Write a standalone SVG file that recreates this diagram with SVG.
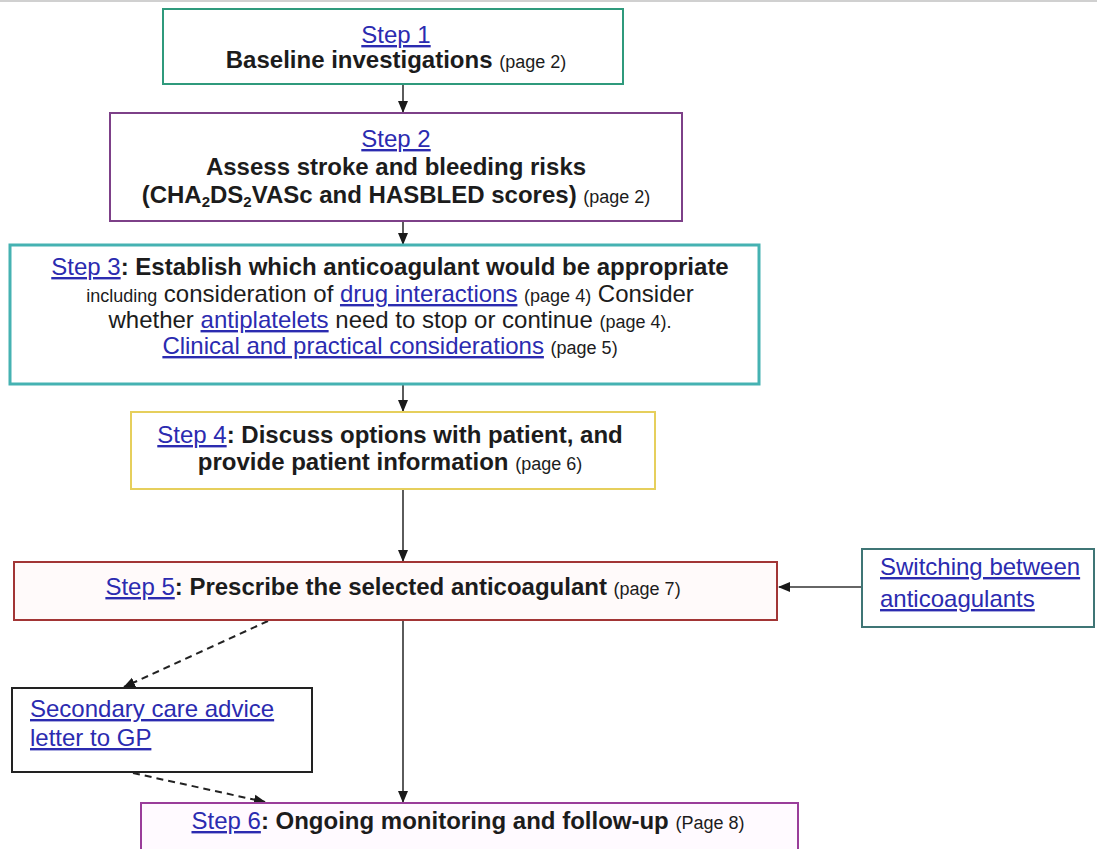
<svg xmlns="http://www.w3.org/2000/svg" width="1097" height="849" viewBox="0 0 1097 849">
<style>
  text { font-family: "Liberation Sans", Arial, sans-serif; fill: #1c1c1c; }
  .m { font-size: 24px; }
  .b { font-weight: bold; }
  .s { font-size: 18px; font-weight: normal; }
  .lk { fill: #2b2bb0; text-decoration: underline; font-weight: normal; }
  .box { fill: #ffffff; }
  .conn { stroke: #333; stroke-width: 1.6; fill: none; }
  .dash { stroke: #222; stroke-width: 2; stroke-dasharray: 7 5; fill: none; }
</style>
<defs>
  <marker id="ah" markerUnits="userSpaceOnUse" markerWidth="12" markerHeight="12" viewBox="0 0 12 12" refX="11" refY="6" orient="auto">
    <path d="M0,1 L12,6 L0,11 Z" fill="#1a1a1a"/>
  </marker>
</defs>
<rect x="0" y="0" width="1097" height="849" fill="#ffffff"/>
<line x1="0" y1="1" x2="1097" y2="1" stroke="#d0d0d0" stroke-width="2"/>

<g id="connectors">
  <line class="conn" x1="403" y1="84" x2="403" y2="112" marker-end="url(#ah)"/>
  <line class="conn" x1="403" y1="221" x2="403" y2="244" marker-end="url(#ah)"/>
  <line class="conn" x1="403" y1="385" x2="403" y2="411" marker-end="url(#ah)"/>
  <line class="conn" x1="403" y1="489" x2="403" y2="561" stroke="#555" marker-end="url(#ah)"/>
  <line class="conn" x1="403" y1="620" x2="403" y2="802" stroke="#555" marker-end="url(#ah)"/>
  <line class="conn" x1="862" y1="587" x2="779" y2="587" stroke-width="2.2" marker-end="url(#ah)"/>
  <line class="dash" x1="268" y1="621" x2="124" y2="687" marker-end="url(#ah)"/>
  <line class="dash" x1="133" y1="773" x2="265" y2="802" marker-end="url(#ah)"/>
</g>

<g id="step1">
  <rect class="box" x="163" y="9" width="460" height="75" stroke="#2f9a7c" stroke-width="2"/>
  <text class="m" x="396" y="43" text-anchor="middle"><tspan class="lk">Step 1</tspan></text>
  <text class="m b" x="396" y="68" text-anchor="middle">Baseline investigations <tspan class="s">(page 2)</tspan></text>
</g>

<g id="step2">
  <rect class="box" x="110" y="113" width="572" height="108" stroke="#7d4088" stroke-width="2"/>
  <text class="m" x="396" y="147" text-anchor="middle"><tspan class="lk">Step 2</tspan></text>
  <text class="m b" x="396" y="175" text-anchor="middle">Assess stroke and bleeding risks</text>
  <text class="m b" x="396" y="203" text-anchor="middle">(CHA<tspan font-size="15" dy="4">2</tspan><tspan dy="-4">DS</tspan><tspan font-size="15" dy="4">2</tspan><tspan dy="-4">VASc and HASBLED scores) </tspan><tspan class="s">(page 2)</tspan></text>
</g>

<g id="step3">
  <rect class="box" x="10" y="245" width="749" height="139" stroke="#45b2b2" stroke-width="3"/>
  <text class="m b" x="390" y="275" text-anchor="middle"><tspan class="lk">Step 3</tspan>: Establish which anticoagulant would be appropriate</text>
  <text class="m" x="390" y="302" text-anchor="middle"><tspan class="s">including</tspan> consideration of <tspan class="lk">drug interactions</tspan> <tspan class="s">(page 4)</tspan> Consider</text>
  <text class="m" x="390" y="328" text-anchor="middle">whether <tspan class="lk">antiplatelets</tspan> need to stop or continue <tspan class="s">(page 4).</tspan></text>
  <text class="m" x="390" y="354" text-anchor="middle"><tspan class="lk">Clinical and practical considerations</tspan> <tspan class="s">(page 5)</tspan></text>
</g>

<g id="step4">
  <rect class="box" x="131" y="412" width="524" height="77" stroke="#e6cf5c" stroke-width="2"/>
  <text class="m b" x="390" y="443" text-anchor="middle"><tspan class="lk">Step 4</tspan>: Discuss options with patient, and</text>
  <text class="m b" x="390" y="470" text-anchor="middle">provide patient information <tspan class="s">(page 6)</tspan></text>
</g>

<g id="step5">
  <rect class="box" x="14" y="562" width="763" height="58" stroke="#a23535" stroke-width="2" style="fill:#fffafa"/>
  <text class="m b" x="393" y="595" text-anchor="middle"><tspan class="lk">Step 5</tspan>: Prescribe the selected anticoagulant <tspan class="s">(page 7)</tspan></text>
</g>

<g id="switching">
  <rect class="box" x="862" y="549" width="232" height="78" stroke="#3f7575" stroke-width="2"/>
  <text class="m" x="880" y="575"><tspan class="lk">Switching between</tspan></text>
  <text class="m" x="880" y="607"><tspan class="lk">anticoagulants</tspan></text>
</g>

<g id="secondary">
  <rect class="box" x="12" y="688" width="300" height="84" stroke="#222" stroke-width="2"/>
  <text class="m" x="30" y="717"><tspan class="lk">Secondary care advice</tspan></text>
  <text class="m" x="30" y="746"><tspan class="lk">letter to GP</tspan></text>
</g>

<g id="step6">
  <rect class="box" x="141" y="803" width="657" height="60" stroke="#9a3d9a" stroke-width="2" style="fill:#fffaff"/>
  <text class="m b" x="468" y="829" text-anchor="middle"><tspan class="lk">Step 6</tspan>: Ongoing monitoring and follow-up <tspan class="s">(Page 8)</tspan></text>
</g>
</svg>
